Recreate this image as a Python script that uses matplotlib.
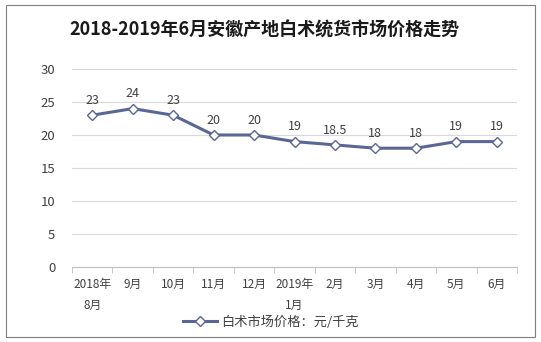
import matplotlib
matplotlib.use("Agg")
import matplotlib.pyplot as plt
from matplotlib.patches import Rectangle

plt.rcParams['font.family'] = ['Noto Sans CJK SC', 'DejaVu Sans']

categories = ["2018年\n8月", "9月", "10月", "11月", "12月", "2019年\n1月", "2月", "3月", "4月", "5月", "6月"]
values = [23, 24, 23, 20, 20, 19, 18.5, 18, 18, 19, 19]
labels = ["23", "24", "23", "20", "20", "19", "18.5", "18", "18", "19", "19"]
yticks = [0, 5, 10, 15, 20, 25, 30]
title = "2018-2019年6月安徽产地白术统货市场价格走势"
series_name = "白术市场价格：元/千克"

W, H = 541, 342
fig = plt.figure(figsize=(W / 100, H / 100), dpi=100)
fig.patch.set_facecolor("white")
fig.add_artist(Rectangle((6 / W, 5 / H), (535 - 6) / W, (337 - 5) / H, transform=fig.transFigure,
                         fill=False, edgecolor="#7F7F7F", linewidth=0.8))

ax = fig.add_axes([72 / W, (H - 267) / H, (517 - 72) / W, (267 - 69) / H])
x = list(range(len(categories)))
color = "#5A6795"
ax.plot(x, values, color=color, linewidth=2.2, marker="D", markersize=5.5,
        markerfacecolor="white", markeredgecolor=color, markeredgewidth=1.0, label=series_name, zorder=3)
for xi, v, t in zip(x, values, labels):
    ax.annotate(t, (xi, v), xytext=(0, 6), textcoords="offset points", ha="center", va="bottom",
                fontsize=9, color="#404040")

ax.set_xlim(-0.5, len(categories) - 0.5)
ax.set_ylim(0, 30)
ax.set_yticks(yticks)
ax.set_xticks(x)
ax.set_xticklabels(categories, fontsize=8.5, color="#404040", linespacing=1.8)
ax.tick_params(axis="y", length=0, labelsize=9.5, labelcolor="#404040", pad=12)
ax.tick_params(axis="x", length=0, pad=8)
ax.grid(axis="y", color="#D9D9D9", linewidth=0.8)
ax.set_axisbelow(True)
for s in ["top", "right", "left"]:
    ax.spines[s].set_visible(False)
ax.spines["bottom"].set_color("#BFBFBF")
ax.set_xticks([i - 0.5 for i in range(len(categories) + 1)], minor=True)
ax.tick_params(axis="x", which="minor", length=4, color="#BFBFBF", direction="out")

fig.text(264 / W, 1 - 30 / H, title, ha="center", va="center", fontsize=13, fontweight="bold", color="#1a1a1a")
fig.legend(loc="center", bbox_to_anchor=(271 / W, 1 - 322 / H), frameon=False, fontsize=9.5,
           handlelength=2.6, labelcolor="#404040", borderaxespad=0, handletextpad=0.3)

fig.savefig("out.png", dpi=100)
